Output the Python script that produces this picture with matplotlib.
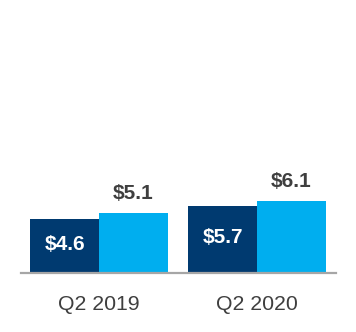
import numpy as np
import matplotlib
matplotlib.use("Agg")
import matplotlib.pyplot as plt

plt.rcParams["font.family"] = ["Liberation Sans", "DejaVu Sans"]

# ── Data ──
categories = ["Q2 2019", "Q2 2020"]
series_a = [4.6, 5.7]   # dark bars
series_b = [5.1, 6.1]   # light bars
labels_a = ["$4.6", "$5.7"]
labels_b = ["$5.1", "$6.1"]

NAVY = "#003a70"
LIGHT = "#00aeef"
TEXT = "#3f3f3f"

fig = plt.figure(figsize=(3.56, 3.32), dpi=100)
ax = fig.add_axes([21/356, 59/332, 315/356, 273/332])

x = np.arange(len(categories))
w = 0.437
ax.bar(x - w/2, series_a, w, color=NAVY, linewidth=0)
ax.bar(x + w/2, series_b, w, color=LIGHT, linewidth=0)

for i in range(len(categories)):
    ax.text(x[i] - w/2, series_a[i] / 2 + 0.15, labels_a[i], ha="center", va="center",
            color="white", fontsize=15, fontweight="bold")
    ax.annotate(labels_b[i], (x[i] + w/2, series_b[i]), xytext=(0, 7),
                textcoords="offset points", ha="center", va="bottom",
                color=TEXT, fontsize=15, fontweight="bold")

ax.set_xlim(-0.494, 1.5)
ax.set_ylim(0, 23.1)
ax.set_xticks(x)
ax.set_xticklabels(categories, fontsize=15.3, color=TEXT)
ax.tick_params(axis="x", length=0, pad=15.5)
ax.set_yticks([])
for s in ["top", "right", "left"]:
    ax.spines[s].set_visible(False)
ax.spines["bottom"].set_color("#a6a6a6")
ax.spines["bottom"].set_linewidth(1.6)

fig.savefig("out.png", dpi=100)
